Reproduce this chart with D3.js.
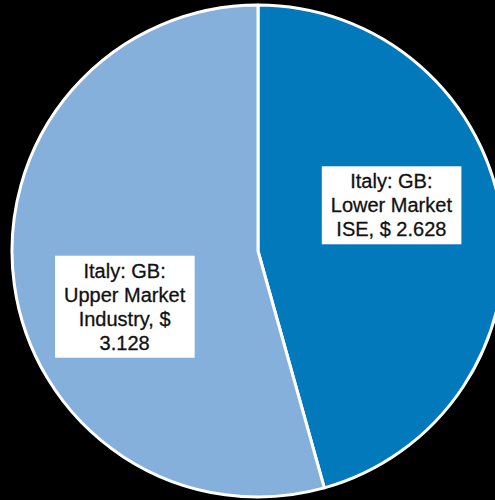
<!DOCTYPE html>
<html>
<head>
<meta charset="utf-8">
<script src="https://cdn.jsdelivr.net/npm/d3@7"></script>
<style>
  html, body { margin: 0; padding: 0; background: #000; }
  svg { display: block; }
</style>
</head>
<body>
<div id="chart"></div>
<script>
// slices, clockwise from 12 o'clock
const categories = ["Italy: GB: Lower Market ISE", "Italy: GB: Upper Market Industry"];
const values = [2.628, 3.128];
const labelLines = [
    ["Italy: GB:", "Lower Market", "ISE, $ 2.628"],
    ["Italy: GB:", "Upper Market", "Industry, $", "3.128"]
];
const colors = ["#0179bb", "#85b0dc"];

const width = 495;
const height = 500;
const cx = 258, cy = 251, radius = 246;

const svg = d3.select("#chart")
    .append("svg")
    .attr("width", width)
    .attr("height", height);

svg.append("rect")
    .attr("width", width)
    .attr("height", height)
    .attr("fill", "#000");

const pie = d3.pie().sort(null).value(d => d);
const arcs = pie(values);

const arc = d3.arc().innerRadius(0).outerRadius(radius);

const g = svg.append("g")
    .attr("transform", `translate(${cx},${cy})`);

g.selectAll("path.slice")
    .data(arcs)
    .enter()
    .append("path")
    .attr("class", "slice")
    .attr("d", arc)
    .attr("fill", (d, i) => colors[i])
    .attr("stroke", "#fff")
    .attr("stroke-width", 3)
    .attr("stroke-linejoin", "round");

// data labels: Excel puts them a bit before the mid angle
const fontSize = 20;
const lineH = 24;
const labelR = radius * 0.58;
const angleShift = -13 * Math.PI / 180;
const nudgeY = 5;

const labels = g.selectAll("g.label")
    .data(arcs)
    .enter()
    .append("g")
    .attr("class", "label")
    .attr("transform", d => {
        const a = (d.startAngle + d.endAngle) / 2 + angleShift;
        return `translate(${labelR * Math.sin(a)},${-labelR * Math.cos(a) + nudgeY})`;
    });

labels.each(function (d, i) {
    const lab = d3.select(this);
    const lines = labelLines[i];
    const box = lab.append("rect").attr("fill", "#fff");
    const text = lab.append("text")
        .attr("text-anchor", "middle")
        .style("font-family", "'Liberation Sans', Arial, sans-serif")
        .style("font-size", fontSize + "px")
        .style("fill", "#111")
        .style("stroke", "#111")
        .style("stroke-width", 0.3);
    const y0 = -(lines.length - 1) * lineH / 2;
    lines.forEach((t, k) => {
        text.append("tspan")
            .attr("x", 0)
            .attr("y", y0 + k * lineH)
            .attr("dy", "0.35em")
            .text(t);
    });
    const bb = text.node().getBBox();
    const padX = 9, padY = 3;
    box.attr("x", bb.x - padX)
        .attr("y", -lines.length * lineH / 2 - padY)
        .attr("width", bb.width + 2 * padX)
        .attr("height", lines.length * lineH + 2 * padY);
});
</script>
</body>
</html>
